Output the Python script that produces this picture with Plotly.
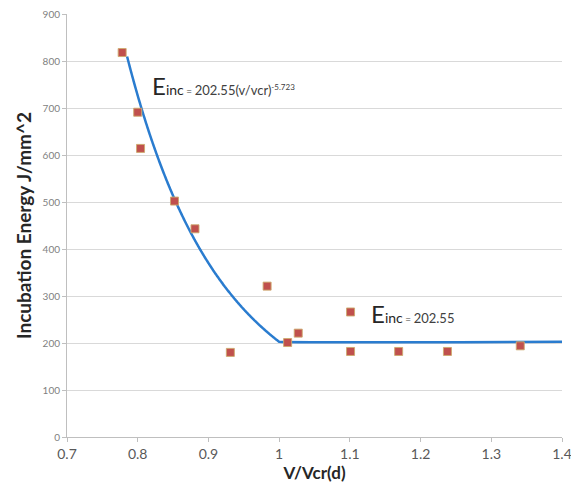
import numpy as np
import plotly.graph_objects as go

# Measured incubation energy vs normalised velocity
v_ratio = [0.778, 0.800, 0.804, 0.852, 0.881, 0.931, 0.983, 1.012, 1.027,
           1.101, 1.101, 1.169, 1.238, 1.341]
energy = [818, 691, 614, 502, 443, 180, 321, 201, 221,
          266, 182, 182, 182, 194]

# Fitted model: power law below v/vcr = 1, constant above
coef = 202.55
expo = -5.723
fit_start = 0.785
fit_break = 1.0
fit_end = 1.4

x_ticks = [0.7, 0.8, 0.9, 1.0, 1.1, 1.2, 1.3, 1.4]
x_tick_text = ["0.7", "0.8", "0.9", "1", "1.1", "1.2", "1.3", "1.4"]
y_ticks = [0, 100, 200, 300, 400, 500, 600, 700, 800, 900]

xs_curve = np.linspace(fit_start, fit_break, 200)
ys_curve = coef * xs_curve ** expo
xs_fit = np.concatenate([xs_curve, [fit_end]])
ys_fit = np.concatenate([ys_curve, [coef]])

fig = go.Figure()
fig.add_trace(go.Scatter(
    x=xs_fit, y=ys_fit, mode="lines",
    line=dict(color="#2a7ccf", width=2.5, shape="spline", smoothing=0.3),
    hoverinfo="skip", showlegend=False,
))
fig.add_trace(go.Scatter(
    x=v_ratio, y=energy, mode="markers",
    marker=dict(symbol="square", size=8, color="#c0504d",
                line=dict(color="rgba(205,170,110,0.9)", width=1)),
    showlegend=False,
))

font_main = "Lato, 'Open Sans', sans-serif"

fig.add_annotation(
    x=0.8174, y=748, xref="x", yref="y", xanchor="left", yanchor="middle",
    showarrow=False,
    text=('<span style="font-size:24px;color:#262626">E</span>'
          '<span style="font-size:14px;color:#262626">inc</span>'
          '<span style="font-size:10px;color:#404040"> = </span>'
          '<span style="font-size:13px;color:#404040">202.55(v/vcr)</span>'
          '<sup><span style="font-size:8px;color:#404040">-5.723</span></sup>'),
    font=dict(family=font_main, size=13),
)
fig.add_annotation(
    x=1.127, y=263, xref="x", yref="y", xanchor="left", yanchor="middle",
    showarrow=False,
    text=('<span style="font-size:24px;color:#262626">E</span>'
          '<span style="font-size:14px;color:#262626">inc</span>'
          '<span style="font-size:10px;color:#404040"> = </span>'
          '<span style="font-size:13px;color:#404040">202.55</span>'),
    font=dict(family=font_main, size=13),
)

fig.update_xaxes(
    range=[0.7, 1.4], tickvals=x_ticks, ticktext=x_tick_text,
    showgrid=False, zeroline=False, automargin=False,
    showline=True, linecolor="#bfbfbf", linewidth=1,
    ticks="outside", ticklen=4, tickcolor="#bfbfbf",
    ticklabeloverflow="allow",
    tickfont=dict(family=font_main, size=14, color="#595959"),
    title=dict(text="<b>V/Vcr(d)</b>", standoff=2,
               font=dict(family=font_main, size=17, color="#262626")),
)
fig.update_yaxes(
    range=[0, 900], tickvals=y_ticks,
    showgrid=True, gridcolor="#d9d9d9", gridwidth=1, zeroline=False,
    automargin=False,
    showline=True, linecolor="#bfbfbf", linewidth=1,
    ticks="outside", ticklen=4, tickcolor="#bfbfbf",
    tickfont=dict(family=font_main, size=10, color="#7f7f7f"),
    title=dict(text="<b>Incubation Energy J/mm^2</b>", standoff=5,
               font=dict(family=font_main, size=19, color="#262626")),
)

fig.update_layout(
    width=571, height=491,
    margin=dict(l=67, r=9, t=14, b=54),
    plot_bgcolor="white", paper_bgcolor="white",
)

fig.write_html("out.html")
